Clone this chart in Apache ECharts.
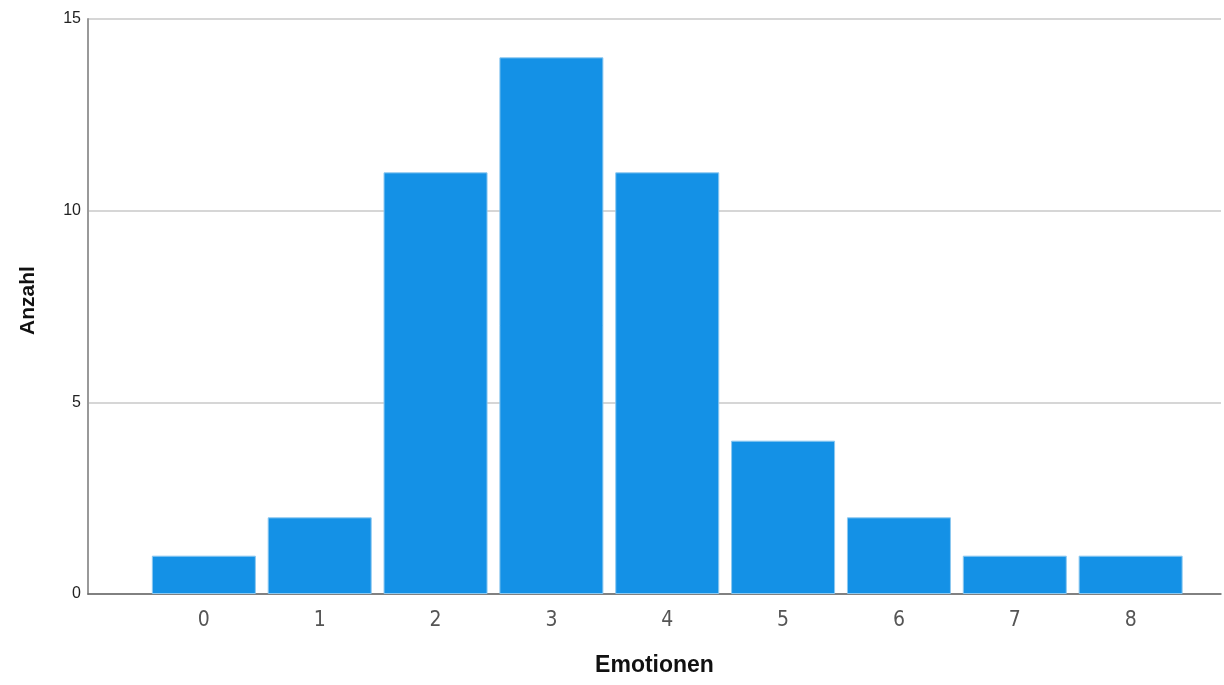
<!DOCTYPE html>
<html>
<head>
<meta charset="utf-8">
<script src="https://cdn.jsdelivr.net/npm/echarts@6/dist/echarts.min.js"></script>
<style>html,body{margin:0;padding:0;background:#fff}#c{width:1224px;height:685px}</style>
</head>
<body>
<div id="c"></div>
<script>
const categories = [0, 1, 2, 3, 4, 5, 6, 7, 8];
const counts = [1, 2, 11, 14, 11, 4, 2, 1, 1];
const yTicks = [0, 5, 10, 15];

const chart = echarts.init(document.getElementById('c'), null, {renderer: 'canvas'});
chart.setOption({
  animation: false,
  backgroundColor: '#ffffff',
  grid: {left: 88, right: 0, top: 19, bottom: 91, containLabel: false},
  xAxis: {
    type: 'value', min: -1, max: 8.78, interval: 1,
    name: 'Emotionen', nameLocation: 'middle', nameGap: 60,
    nameTextStyle: {fontFamily: 'Liberation Sans', fontWeight: 'bold', fontSize: 23, color: '#111'},
    axisLine: {show: true, onZero: false, lineStyle: {color: '#666', width: 1.5}},
    axisTick: {show: false},
    splitLine: {show: false},
    axisLabel: {
      fontFamily: "'Liberation Sans Narrow', 'DejaVu Sans Condensed', sans-serif", fontSize: 21, color: '#555', margin: 16,
      formatter: v => categories.indexOf(v) >= 0 ? String(v) : ''
    }
  },
  yAxis: {
    type: 'value', min: yTicks[0], max: yTicks[yTicks.length - 1], interval: 5,
    name: 'Anzahl', nameLocation: 'middle', nameGap: 49,
    nameTextStyle: {fontFamily: 'Liberation Sans', fontWeight: 'bold', fontSize: 21, color: '#111', padding: [0, 0, 0, 12]},
    axisLine: {show: true, onZero: false, lineStyle: {color: '#999', width: 2}},
    axisTick: {show: false},
    splitLine: {show: true, lineStyle: {color: '#c8c8c8', width: 1.5}},
    axisLabel: {fontFamily: 'Liberation Sans', fontSize: 16, color: '#222', margin: 7}
  },
  series: [{
    type: 'bar',
    data: categories.map((c, i) => [c, counts[i]]),
    barWidth: 104,
    itemStyle: {color: '#1491e6', borderColor: '#8cc8f0', borderWidth: 1}
  }]
});
</script>
</body>
</html>
